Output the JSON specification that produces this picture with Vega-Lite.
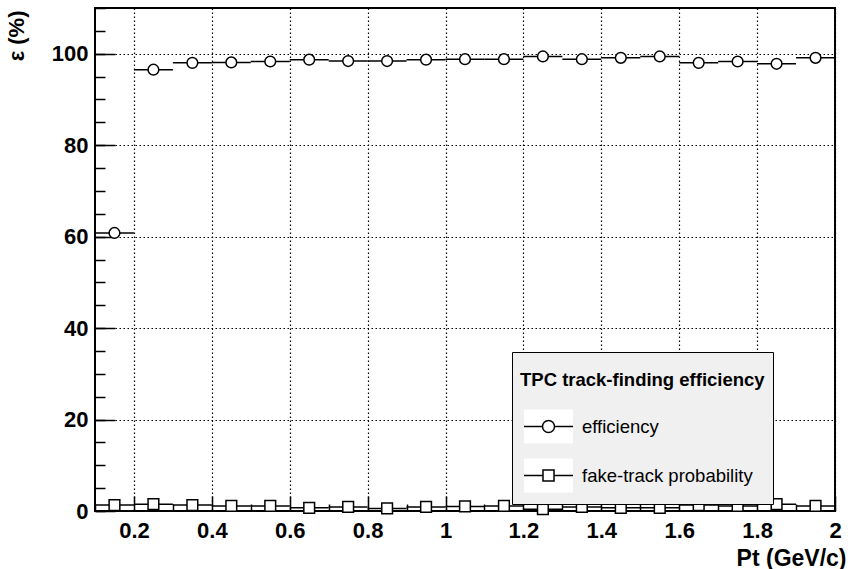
{
  "$schema": "https://vega.github.io/schema/vega-lite/v6.json",
  "width": 740,
  "height": 503,
  "autosize": {"type": "none"},
  "padding": {"left": 95, "top": 8, "right": 13, "bottom": 58},
  "background": "white",
  "config": {
    "view": {"stroke": "black", "strokeWidth": 2},
    "font": "Liberation Sans",
    "axis": {
      "labelFont": "Liberation Sans",
      "labelFontWeight": "bold",
      "labelColor": "black",
      "tickColor": "black",
      "titleColor": "black",
      "titleFont": "Liberation Sans",
      "domain": false,
      "labelFlush": false,
      "labelOverlap": false
    }
  },
  "data": {
    "values": [
      {"s": "efficiency", "x": 0.15, "lo": 0.1, "hi": 0.2, "v": 60.8},
      {"s": "efficiency", "x": 0.25, "lo": 0.2, "hi": 0.3, "v": 96.5},
      {"s": "efficiency", "x": 0.35, "lo": 0.3, "hi": 0.4, "v": 98.0},
      {"s": "efficiency", "x": 0.45, "lo": 0.4, "hi": 0.5, "v": 98.1},
      {"s": "efficiency", "x": 0.55, "lo": 0.5, "hi": 0.6, "v": 98.3},
      {"s": "efficiency", "x": 0.65, "lo": 0.6, "hi": 0.7, "v": 98.7},
      {"s": "efficiency", "x": 0.75, "lo": 0.7, "hi": 0.8, "v": 98.4},
      {"s": "efficiency", "x": 0.85, "lo": 0.8, "hi": 0.9, "v": 98.4},
      {"s": "efficiency", "x": 0.95, "lo": 0.9, "hi": 1.0, "v": 98.7},
      {"s": "efficiency", "x": 1.05, "lo": 1.0, "hi": 1.1, "v": 98.8},
      {"s": "efficiency", "x": 1.15, "lo": 1.1, "hi": 1.2, "v": 98.8},
      {"s": "efficiency", "x": 1.25, "lo": 1.2, "hi": 1.3, "v": 99.4},
      {"s": "efficiency", "x": 1.35, "lo": 1.3, "hi": 1.4, "v": 98.8},
      {"s": "efficiency", "x": 1.45, "lo": 1.4, "hi": 1.5, "v": 99.1},
      {"s": "efficiency", "x": 1.55, "lo": 1.5, "hi": 1.6, "v": 99.4},
      {"s": "efficiency", "x": 1.65, "lo": 1.6, "hi": 1.7, "v": 98.0},
      {"s": "efficiency", "x": 1.75, "lo": 1.7, "hi": 1.8, "v": 98.3},
      {"s": "efficiency", "x": 1.85, "lo": 1.8, "hi": 1.9, "v": 97.8},
      {"s": "efficiency", "x": 1.95, "lo": 1.9, "hi": 2.0, "v": 99.1},
      {"s": "fake-track probability", "x": 0.15, "lo": 0.1, "hi": 0.2, "v": 1.3},
      {"s": "fake-track probability", "x": 0.25, "lo": 0.2, "hi": 0.3, "v": 1.5},
      {"s": "fake-track probability", "x": 0.35, "lo": 0.3, "hi": 0.4, "v": 1.3},
      {"s": "fake-track probability", "x": 0.45, "lo": 0.4, "hi": 0.5, "v": 1.1},
      {"s": "fake-track probability", "x": 0.55, "lo": 0.5, "hi": 0.6, "v": 1.1},
      {"s": "fake-track probability", "x": 0.65, "lo": 0.6, "hi": 0.7, "v": 0.7},
      {"s": "fake-track probability", "x": 0.75, "lo": 0.7, "hi": 0.8, "v": 0.9},
      {"s": "fake-track probability", "x": 0.85, "lo": 0.8, "hi": 0.9, "v": 0.55},
      {"s": "fake-track probability", "x": 0.95, "lo": 0.9, "hi": 1.0, "v": 0.9},
      {"s": "fake-track probability", "x": 1.05, "lo": 1.0, "hi": 1.1, "v": 1.0},
      {"s": "fake-track probability", "x": 1.15, "lo": 1.1, "hi": 1.2, "v": 1.1},
      {"s": "fake-track probability", "x": 1.25, "lo": 1.2, "hi": 1.3, "v": 0.4},
      {"s": "fake-track probability", "x": 1.35, "lo": 1.3, "hi": 1.4, "v": 0.9},
      {"s": "fake-track probability", "x": 1.45, "lo": 1.4, "hi": 1.5, "v": 0.7},
      {"s": "fake-track probability", "x": 1.55, "lo": 1.5, "hi": 1.6, "v": 0.7},
      {"s": "fake-track probability", "x": 1.65, "lo": 1.6, "hi": 1.7, "v": 1.3},
      {"s": "fake-track probability", "x": 1.75, "lo": 1.7, "hi": 1.8, "v": 1.1},
      {"s": "fake-track probability", "x": 1.85, "lo": 1.8, "hi": 1.9, "v": 1.5},
      {"s": "fake-track probability", "x": 1.95, "lo": 1.9, "hi": 2.0, "v": 1.1}
    ]
  },
  "layer": [
    {
      "mark": {"type": "rule", "stroke": "black", "strokeWidth": 1.5},
      "encoding": {
        "x": {
          "field": "lo",
          "type": "quantitative",
          "scale": {"domain": [0.1, 2], "nice": false, "zero": false},
          "axis": {
            "orient": "bottom",
            "values": [0.2, 0.4, 0.6, 0.8, 1, 1.2, 1.4, 1.6, 1.8, 2],
            "format": "~g",
            "grid": true,
            "gridColor": "black",
            "gridDash": [1.5, 2.5],
            "gridWidth": 1.2,
            "gridOpacity": 1,
            "tickSize": -15,
            "tickWidth": 1.5,
            "labelFontSize": 22,
            "labelPadding": 24,
            "title": "Pt (GeV/c)",
            "titleFontSize": 23,
            "titleFontWeight": "bold",
            "titleAnchor": "end",
            "titleAlign": "right",
            "titleBaseline": "alphabetic",
            "titleX": 751,
            "titleY": 54
          }
        },
        "x2": {"field": "hi"},
        "y": {
          "field": "v",
          "type": "quantitative",
          "scale": {"domain": [0, 110], "nice": false},
          "axis": {
            "orient": "left",
            "values": [0, 20, 40, 60, 80, 100],
            "grid": true,
            "gridColor": "black",
            "gridDash": [1.5, 2.5],
            "gridWidth": 1.2,
            "gridOpacity": 1,
            "tickSize": -20,
            "tickWidth": 1.5,
            "labelFontSize": 22,
            "labelPadding": 27,
            "title": "ε (%)",
            "titleFontSize": 22,
            "titleFontWeight": "bold",
            "titleAnchor": "end",
            "titleAngle": -90,
            "titleAlign": "right",
            "titleBaseline": "alphabetic",
            "titleX": -72,
            "titleY": 2
          }
        }
      }
    },
    {
      "mark": {"type": "point", "filled": true, "fill": "white", "stroke": "black", "strokeWidth": 1.5, "size": 115, "opacity": 1},
      "encoding": {
        "x": {
          "field": "x",
          "type": "quantitative",
          "axis": {
            "orient": "bottom",
            "values": [0.1, 0.3, 0.5, 0.7, 0.9, 1.1, 1.3, 1.5, 1.7, 1.9],
            "labels": false,
            "grid": false,
            "tickSize": -7,
            "tickWidth": 1.5,
            "title": null
          }
        },
        "y": {
          "field": "v",
          "type": "quantitative",
          "axis": {
            "orient": "left",
            "values": [0, 5, 10, 15, 20, 25, 30, 35, 40, 45, 50, 55, 60, 65, 70, 75, 80, 85, 90, 95, 100, 105, 110],
            "labels": false,
            "grid": false,
            "tickSize": -10,
            "tickWidth": 1.5,
            "title": null
          }
        },
        "shape": {
          "field": "s",
          "type": "nominal",
          "scale": {"domain": ["efficiency", "fake-track probability"], "range": ["circle", "square"]},
          "legend": null
        }
      }
    },
    {
      "mark": {"type": "point", "filled": true, "fill": "white", "size": 1156, "opacity": 0},
      "encoding": {
        "x": {"field": "x", "type": "quantitative", "axis": null},
        "y": {"field": "v", "type": "quantitative", "axis": null},
        "shape": {
          "field": "s",
          "type": "nominal",
          "scale": {
            "domain": ["efficiency", "fake-track probability"],
            "range": [
              "M-1.441,-1L1.441,-1L1.441,1L-1.441,1Z",
              "M-1.441,-1L1.441,-1L1.441,1L-1.441,1Z"
            ]
          },
          "legend": {
            "title": ["", "TPC track-finding efficiency"],
            "orient": "none",
            "legendX": 417,
            "legendY": 344,
            "direction": "vertical",
            "fillColor": "#f0f0f0",
            "strokeColor": "black",
            "padding": 8,
            "titleFont": "Liberation Sans",
            "titleFontSize": 18.5,
            "titleFontWeight": "bold",
            "titleColor": "black",
            "titleLineHeight": 11,
            "titlePadding": 19,
            "titleLimit": 400,
            "labelFont": "Liberation Sans",
            "labelFontSize": 18.5,
            "labelColor": "black",
            "labelLimit": 400,
            "symbolSize": 1156,
            "symbolOffset": 10.5,
            "symbolOpacity": 1,
            "symbolFillColor": "white",
            "labelOffset": 15.5,
            "rowPadding": 9
          }
        }
      }
    },
    {
      "mark": {"type": "point", "filled": false, "fill": "white", "stroke": "black", "strokeWidth": 1.5, "size": 1156, "opacity": 0},
      "encoding": {
        "x": {"field": "x", "type": "quantitative", "axis": null},
        "y": {"field": "v", "type": "quantitative", "axis": null},
        "shape": {
          "field": "s",
          "type": "nominal",
          "scale": {
            "domain": ["efficiency", "fake-track probability"],
            "range": [
              "M0,-1M0,1M-1.441,0L-0.353,0M0.353,0L1.441,0M0.353,0A0.353,0.353,0,1,1,-0.353,0A0.353,0.353,0,1,1,0.353,0Z",
              "M0,-1M0,1M-1.441,0L-0.324,0M0.324,0L1.441,0M-0.324,-0.324L0.324,-0.324L0.324,0.324L-0.324,0.324Z"
            ]
          },
          "legend": {
            "title": ["", "TPC track-finding efficiency"],
            "orient": "none",
            "legendX": 417,
            "legendY": 344,
            "direction": "vertical",
            "fillColor": "transparent",
            "strokeColor": "transparent",
            "padding": 8,
            "titleFont": "Liberation Sans",
            "titleFontSize": 18.5,
            "titleFontWeight": "bold",
            "titleColor": "transparent",
            "titleLineHeight": 11,
            "titlePadding": 19,
            "titleLimit": 400,
            "labelFont": "Liberation Sans",
            "labelFontSize": 18.5,
            "labelColor": "transparent",
            "labelLimit": 400,
            "symbolSize": 1156,
            "symbolOffset": 10.5,
            "symbolOpacity": 1,
            "symbolStrokeWidth": 1.5,
            "labelOffset": 15.5,
            "rowPadding": 9
          }
        }
      }
    }
  ],
  "resolve": {
    "axis": {"x": "independent", "y": "independent"},
    "scale": {"shape": "independent"}
  }
}
